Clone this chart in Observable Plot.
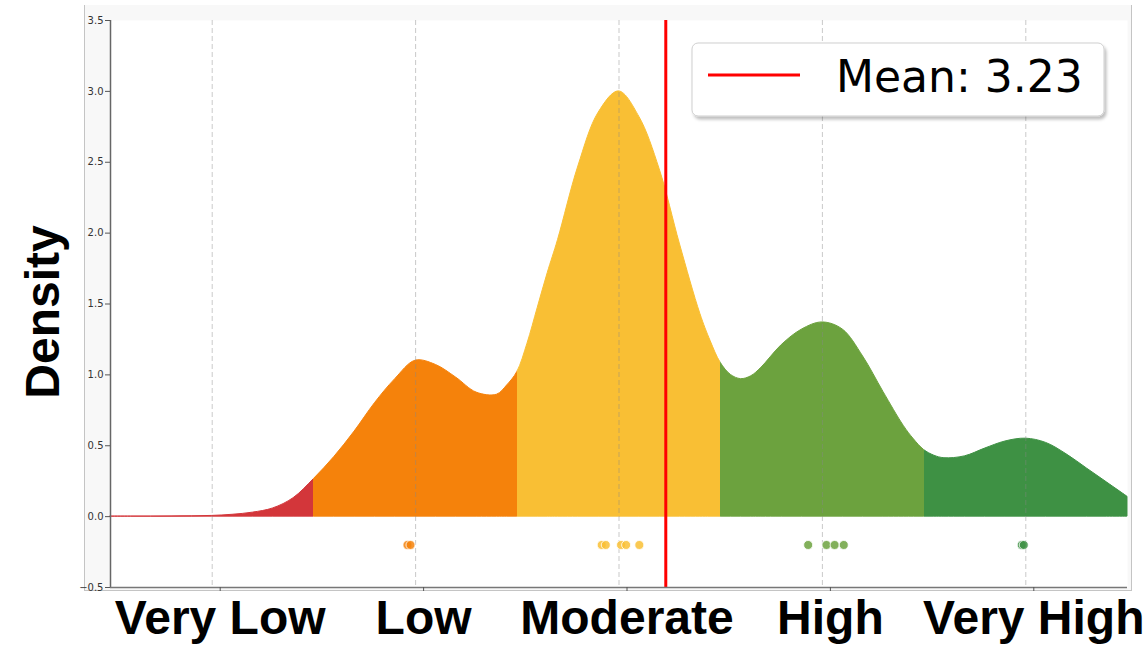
<!DOCTYPE html>
<html>
<head>
<meta charset="utf-8">
<script src="https://cdn.jsdelivr.net/npm/d3@7"></script>
<script src="https://cdn.jsdelivr.net/npm/@observablehq/plot@0.6"></script>
<style>
  html, body { margin: 0; padding: 0; background: #ffffff; }
  #wrap { position: relative; width: 1145px; height: 646px; overflow: hidden; }
  #panel { position: absolute; left: 84px; top: 5px; width: 1046px; height: 585px; background: #f8f8f8;
           border-left: 1px solid #c4c4c4; border-right: 1px solid #c4c4c4; border-bottom: 1px solid #c4c4c4; }
  #chart { position: absolute; left: 0; top: 0; }
  #legend { position: absolute; left: 0; top: 0; pointer-events: none; }
</style>
</head>
<body>
<div id="wrap">
  <div id="panel"></div>
  <div id="chart"></div>
  <svg id="legend" width="1145" height="646"></svg>
</div>
<script>
// ---- data ----
const categories = ["Very Low", "Low", "Moderate", "High", "Very High"];
const categoryPositions = [1, 2, 3, 4, 5];
const categoryColors = ["#d3363a", "#f5820b", "#f9bf34", "#6ca23e", "#3e9144"];
const xDomain = [0.5, 5.5];

// sample positions along the rating scale and the density read at each
const sampleX = [0.5, 0.6, 0.7, 0.8, 0.9, 1.0, 1.1, 1.2, 1.3, 1.4,
                 1.5, 1.6, 1.7, 1.8, 1.9, 2.0, 2.1, 2.2, 2.3, 2.4, 2.45,
                 2.5, 2.55, 2.6, 2.65, 2.7, 2.8, 2.9, 3.0, 3.1, 3.2, 3.3, 3.4, 3.45,
                 3.5, 3.55, 3.6, 3.65, 3.7, 3.8, 3.9, 4.0, 4.1, 4.2, 4.3, 4.4, 4.45,
                 4.5, 4.55, 4.6, 4.7, 4.8, 4.9, 5.0, 5.1, 5.2, 5.3, 5.4, 5.5];
const densityY = [0.000, 0.000, 0.000, 0.001, 0.002, 0.005, 0.013, 0.028, 0.058, 0.130,
                  0.265, 0.420, 0.600, 0.800, 0.970, 1.100, 1.070, 0.980, 0.875, 0.860, 0.925,
                  1.020, 1.220, 1.470, 1.720, 1.950, 2.470, 2.850, 3.000, 2.820, 2.450, 1.920, 1.430, 1.240,
                  1.085, 1.000, 0.970, 0.990, 1.050, 1.210, 1.320, 1.370, 1.320, 1.130, 0.880, 0.640, 0.545,
                  0.470, 0.430, 0.412, 0.425, 0.480, 0.530, 0.550, 0.520, 0.440, 0.340, 0.240, 0.140];

// individual responses shown as a strip below the curve
const pointsLow = [1.96, 1.975];
const pointsModerate = [2.915, 2.935, 3.01, 3.035, 3.10];
const pointsHigh = [3.93, 4.02, 4.06, 4.105];
const pointsVeryHigh = [4.98, 4.99];
const stripY = -0.2;

const meanValue = 3.23;
const yTicks = [-0.5, 0.0, 0.5, 1.0, 1.5, 2.0, 2.5, 3.0, 3.5];

// ---- build tables ----
const curveRows = sampleX.map((x, j) => ({x, density: densityY[j]}));
const pointRows = [];
[[1, pointsLow], [2, pointsModerate], [3, pointsHigh], [4, pointsVeryHigh]].forEach(([ci, arr]) => {
  arr.forEach(x => pointRows.push({category: categories[ci], x, y: stripY}));
});

const chart = Plot.plot({
  width: 1145,
  height: 646,
  marginLeft: 110,
  marginRight: 18,
  marginTop: 20,
  marginBottom: 59,
  style: {background: "transparent", fontFamily: "DejaVu Sans", overflow: "visible"},
  x: {domain: xDomain},
  y: {domain: [-0.5, 3.5]},
  color: {domain: categories, range: categoryColors},
  marks: [
    Plot.frame({fill: "white", stroke: null}),
    Plot.areaY(curveRows, {x: "x", y1: 0, y2: "density", fill: "url(#bandGrad)", stroke: "url(#bandGrad)",
                           strokeWidth: 1, curve: "catmull-rom"}),
    Plot.ruleX(categoryPositions, {stroke: "#888", strokeOpacity: 0.45, strokeWidth: 1, strokeDasharray: "5,3"}),
    Plot.dot(pointRows, {x: "x", y: "y", fill: "category", fillOpacity: 0.85, stroke: "white",
                         strokeWidth: 0.8, r: 4.5}),
    Plot.ruleX([meanValue], {stroke: "#ff0000", strokeWidth: 3}),
    Plot.ruleX([xDomain[0]], {stroke: "#666", strokeWidth: 1.5}),
    Plot.ruleY([-0.5], {stroke: "#777", strokeWidth: 1.5}),
    Plot.axisY({ticks: yTicks, tickFormat: d3.format(".1f"), fontSize: 10, tickSize: 5, tickPadding: 2,
                label: null, color: "#333", stroke: "#555"}),
    Plot.axisX({ticks: categoryPositions, tickFormat: d => categories[d - 1], fontSize: 48,
                fontWeight: "bold", fontFamily: "Liberation Sans", tickSize: 4, tickPadding: 8,
                dx: 8, label: null, fill: "black", stroke: "#555"}),
    Plot.text(["Density"], {text: d => d, frameAnchor: "left", rotate: -90, dx: -52, dy: 8,
                            fontSize: 48, fontWeight: "bold", fontFamily: "Liberation Sans",
                            lineAnchor: "bottom", textAnchor: "middle", fill: "black"})
  ]
});
document.getElementById("chart").appendChild(chart);

// hard-stop gradient colouring each rating band (area bbox spans the full x domain)
const svg = d3.select(chart.tagName.toLowerCase() === "svg" ? chart : chart.querySelector("svg"));
const grad = svg.insert("defs", ":first-child").append("linearGradient")
  .attr("id", "bandGrad").attr("x1", 0).attr("x2", 1).attr("y1", 0).attr("y2", 0);
const span = xDomain[1] - xDomain[0];
categoryPositions.forEach((p, i) => {
  const a = (p - 0.5 - xDomain[0]) / span, b = (p + 0.5 - xDomain[0]) / span;
  grad.append("stop").attr("offset", a).attr("stop-color", categoryColors[i]);
  grad.append("stop").attr("offset", b).attr("stop-color", categoryColors[i]);
});

// ---- legend ----
const lg = d3.select("#legend");
const defs = lg.append("defs");
const f = defs.append("filter").attr("id", "sh").attr("x", "-10%").attr("y", "-10%").attr("width", "130%").attr("height", "140%");
f.append("feDropShadow").attr("dx", 2).attr("dy", 3).attr("stdDeviation", 1.5).attr("flood-color", "#000").attr("flood-opacity", 0.25);
lg.append("rect").attr("x", 692).attr("y", 43).attr("width", 412).attr("height", 73).attr("rx", 6)
  .attr("fill", "white").attr("stroke", "#cfcfcf").attr("filter", "url(#sh)");
lg.append("line").attr("x1", 708).attr("x2", 800).attr("y1", 75).attr("y2", 75)
  .attr("stroke", "#ff0000").attr("stroke-width", 3);
lg.append("text").attr("x", 836).attr("y", 92).attr("font-family", "DejaVu Sans").attr("font-size", 44)
  .attr("fill", "black").text(`Mean: ${meanValue.toFixed(2)}`);
</script>
</body>
</html>
